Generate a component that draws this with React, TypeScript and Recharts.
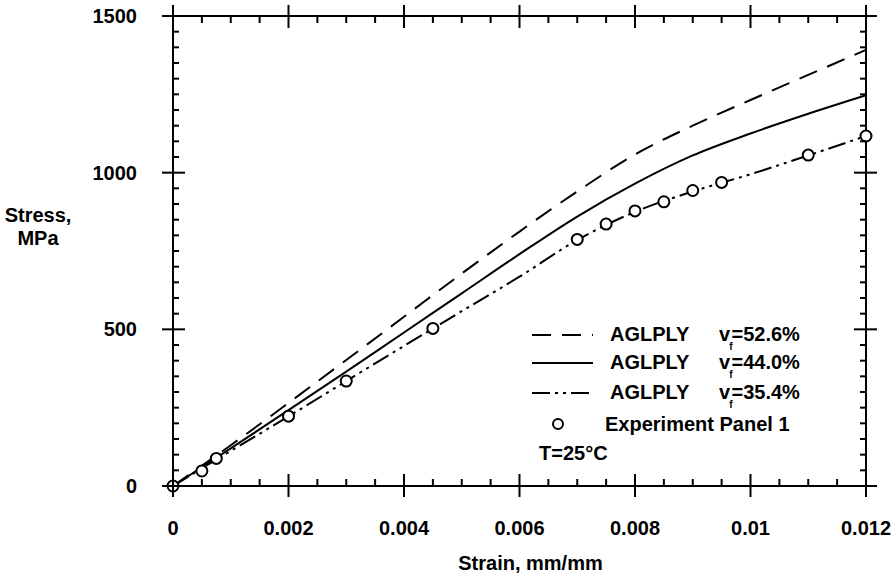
import React from 'react';
import { ComposedChart, Line, XAxis, YAxis, Legend } from 'recharts';

// model curves
const strain = [0, 0.001, 0.002, 0.003, 0.004, 0.005, 0.006, 0.007, 0.008, 0.009, 0.01, 0.011, 0.012];
const stressVf526 = [0, 130, 265, 402, 540, 678, 812, 940, 1058, 1150, 1232, 1312, 1392];
const stressVf440 = [0, 120, 242, 365, 490, 615, 740, 860, 965, 1055, 1125, 1188, 1247];
const stressVf354 = [0, 112, 222, 335, 447, 558, 668, 785, 875, 940, 995, 1055, 1117];

// experiment panel 1
const expStrain = [0, 0.0005, 0.00075, 0.002, 0.003, 0.0045, 0.007, 0.0075, 0.008, 0.0085, 0.009, 0.0095, 0.011, 0.012];
const expStress = [0, 48, 88, 223, 335, 503, 787, 836, 878, 907, 943, 969, 1056, 1117];

const xTicks = [0, 0.002, 0.004, 0.006, 0.008, 0.01, 0.012];
const yTicks = [0, 500, 1000, 1500];
// minor ticks every 0.0005 and every 50 MPa (majors included)
const xAllTicks = Array.from({ length: 25 }, (_, i) => +(i * 0.0005).toFixed(4));
const yAllTicks = Array.from({ length: 31 }, (_, i) => i * 50);

const legendLabels = ['=52.6%', '=44.0%', '=35.4%'];
const legendDash = ['19 11', undefined, '18 5 3 5 3 5'];

const FONT = '"Liberation Sans", Arial, Helvetica, sans-serif';

// frame of the plot, from the chart margins and axis sizes below
const W = 894;
const H = 575;
const PLOT = { left: 173, right: W - 28, top: 16, bottom: H - 89 };
const MAJ_OUT = 11;
const MAJ_IN = 12;
const MIN_IN = 7;

const toPoints = (xs: number[], ys: number[]) => xs.map((x, i) => ({ x, y: ys[i] }));
const curve526 = toPoints(strain, stressVf526);
const curve440 = toPoints(strain, stressVf440);
const curve354 = toPoints(strain, stressVf354);
const experiment = toPoints(expStrain, expStress);

const isMajor = (v: number, majors: number[]) => majors.some((m) => Math.abs(m - v) < 1e-9);

const textProps = { fontFamily: FONT, fontWeight: 700, fontSize: 20, fill: '#000' };
const tickStroke = { stroke: '#000', strokeWidth: 2 };

// bottom axis tick: draws the bottom and the matching top tick mark
function BottomTick(props: any) {
  const { x, payload } = props;
  const major = isMajor(payload.value, xTicks);
  const inLen = major ? MAJ_IN : MIN_IN;
  const outLen = major ? MAJ_OUT : 0;
  return (
    <g>
      <line x1={x} x2={x} y1={PLOT.bottom - inLen} y2={PLOT.bottom + outLen} {...tickStroke} />
      <line x1={x} x2={x} y1={PLOT.top + inLen} y2={PLOT.top - outLen} {...tickStroke} />
      {major && (
        <text x={x} y={PLOT.bottom + 49} textAnchor="middle" {...textProps}>
          {String(payload.value)}
        </text>
      )}
    </g>
  );
}

// left axis tick: draws the left and the matching right tick mark
function LeftTick(props: any) {
  const { y, payload } = props;
  const major = isMajor(payload.value, yTicks);
  const inLen = major ? MAJ_IN : MIN_IN - 1;
  const outLen = major ? MAJ_OUT : 0;
  return (
    <g>
      <line x1={PLOT.left - outLen} x2={PLOT.left + inLen} y1={y} y2={y} {...tickStroke} />
      <line x1={PLOT.right + outLen} x2={PLOT.right - inLen} y1={y} y2={y} {...tickStroke} />
      {major && (
        <text x={137} y={y + 7} textAnchor="end" {...textProps}>
          {String(payload.value)}
        </text>
      )}
    </g>
  );
}

function LegendBox() {
  const rowY = [17, 45, 75];
  return (
    <div style={{ position: 'relative', width: 300, height: 150, fontFamily: FONT, fontWeight: 700, fontSize: 20, color: '#000', lineHeight: '22px' }}>
      {legendLabels.map((lab, i) => (
        <React.Fragment key={lab}>
          <svg width={61} height={6} style={{ position: 'absolute', left: 12, top: rowY[i] - 3 }}>
            <line x1={0} y1={3} x2={61} y2={3} stroke="#000" strokeWidth={2} strokeDasharray={legendDash[i]} />
          </svg>
          <span style={{ position: 'absolute', left: 90, top: rowY[i] - 12 }}>AGLPLY</span>
          <span style={{ position: 'absolute', left: 199, top: rowY[i] - 12, whiteSpace: 'nowrap' }}>
            v
            <span style={{ position: 'relative', top: 9, fontSize: 10, marginLeft: -1, marginRight: -1 }}>f</span>
            {lab}
          </span>
        </React.Fragment>
      ))}
      <svg width={14} height={14} style={{ position: 'absolute', left: 31, top: 99 }}>
        <circle cx={7} cy={7} r={5} fill="#fff" stroke="#000" strokeWidth={2} />
      </svg>
      <span style={{ position: 'absolute', left: 85, top: 95 }}>Experiment Panel 1</span>
      <span style={{ position: 'absolute', left: 19, top: 124 }}>T=25°C</span>
    </div>
  );
}

export default function App() {
  return (
    <div style={{ position: 'absolute', left: 0, top: 0, width: W, height: H, background: '#fff' }}>
      <ComposedChart width={W} height={H} margin={{ top: 0, right: 0, bottom: 0, left: 0 }}>
        <XAxis
          xAxisId="main"
          dataKey="x"
          type="number"
          domain={[0, 0.012]}
          ticks={xAllTicks}
          interval={0}
          height={89}
          axisLine={{ stroke: '#000', strokeWidth: 2 }}
          tickLine={false}
          tick={BottomTick}
          label={{
            content: ({ viewBox }: any) => (
              <text x={viewBox.x + viewBox.width / 2 + 11} y={570} textAnchor="middle" {...textProps}>
                Strain, mm/mm
              </text>
            ),
          }}
        />
        <XAxis xAxisId="top" orientation="top" height={16} type="number" domain={[0, 0.012]} axisLine={{ stroke: '#000', strokeWidth: 2 }} tickLine={false} tick={false} />
        <YAxis
          yAxisId="main"
          type="number"
          domain={[0, 1500]}
          ticks={yAllTicks}
          interval={0}
          width={173}
          axisLine={{ stroke: '#000', strokeWidth: 2 }}
          tickLine={false}
          tick={LeftTick}
          label={{
            content: () => (
              <text textAnchor="middle" {...textProps}>
                <tspan x={38} y={222}>Stress,</tspan>
                <tspan x={38} y={245}>MPa</tspan>
              </text>
            ),
          }}
        />
        <YAxis yAxisId="right" orientation="right" width={28} type="number" domain={[0, 1500]} axisLine={{ stroke: '#000', strokeWidth: 2 }} tickLine={false} tick={false} />

        <Line xAxisId="main" yAxisId="main" data={curve526} dataKey="y" type="monotone" stroke="#000" strokeWidth={2} strokeDasharray="19 11" dot={false} isAnimationActive={false} />
        <Line xAxisId="main" yAxisId="main" data={curve440} dataKey="y" type="monotone" stroke="#000" strokeWidth={2} dot={false} isAnimationActive={false} />
        <Line xAxisId="main" yAxisId="main" data={curve354} dataKey="y" type="monotone" stroke="#000" strokeWidth={2} strokeDasharray="18 5 3 5 3 5" dot={false} isAnimationActive={false} />
        <Line
          xAxisId="main"
          yAxisId="main"
          data={experiment}
          dataKey="y"
          stroke="none"
          dot={{ r: 5.5, fill: '#fff', stroke: '#000', strokeWidth: 2 }}
          isAnimationActive={false}
        />

        <Legend
          layout="vertical"
          align="center"
          verticalAlign="middle"
          content={() => <LegendBox />}
          wrapperStyle={{ left: 520, top: 318, width: 300, height: 150 }}
        />
      </ComposedChart>
    </div>
  );
}
